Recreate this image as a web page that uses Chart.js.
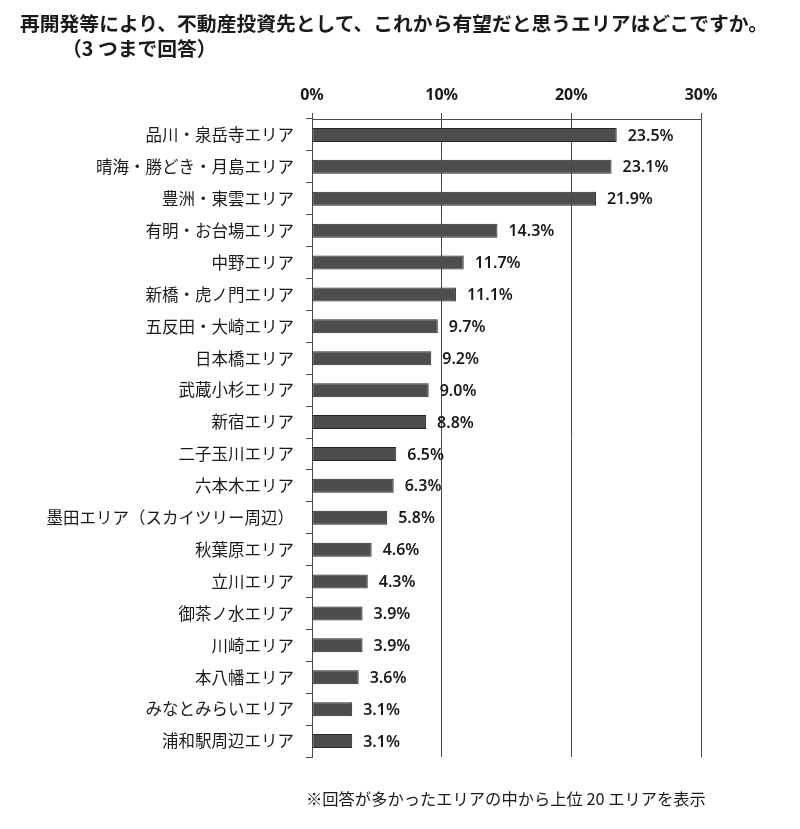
<!DOCTYPE html>
<html>
<head>
<meta charset="utf-8">
<script src="https://cdn.jsdelivr.net/npm/chart.js@4.4.1/dist/chart.umd.min.js"></script>
<style>
  html, body { margin: 0; padding: 0; background: #fff; }
  #wrap { position: relative; width: 800px; height: 829px; }
  #c { position: absolute; left: 0; top: 0; }
  .txt { position: absolute; font-family: "Noto Sans CJK JP", "Noto Sans", sans-serif; color: #1a1a1a; white-space: nowrap; }
  #t1 { left: 20px; top: 8px; font-size: 19.8px; font-weight: bold; }
  #t2 { left: 62px; top: 33px; font-size: 19.8px; font-weight: bold; }
  #foot { left: 306px; top: 786px; font-size: 16.3px; }
</style>
</head>
<body>
<div id="wrap">
  <canvas id="c" width="800" height="829"></canvas>
  <div class="txt" id="t1">再開発等により、不動産投資先として、これから有望だと思うエリアはどこですか。</div>
  <div class="txt" id="t2">（3 つまで回答）</div>
  <div class="txt" id="foot">※回答が多かったエリアの中から上位 20 エリアを表示</div>
</div>
<script>
const categories = [
  "品川・泉岳寺エリア",
  "晴海・勝どき・月島エリア",
  "豊洲・東雲エリア",
  "有明・お台場エリア",
  "中野エリア",
  "新橋・虎ノ門エリア",
  "五反田・大崎エリア",
  "日本橋エリア",
  "武蔵小杉エリア",
  "新宿エリア",
  "二子玉川エリア",
  "六本木エリア",
  "墨田エリア（スカイツリー周辺）",
  "秋葉原エリア",
  "立川エリア",
  "御茶ノ水エリア",
  "川崎エリア",
  "本八幡エリア",
  "みなとみらいエリア",
  "浦和駅周辺エリア"
];
const values = [23.5, 23.1, 21.9, 14.3, 11.7, 11.1, 9.7, 9.2, 9.0, 8.8, 6.5, 6.3, 5.8, 4.6, 4.3, 3.9, 3.9, 3.6, 3.1, 3.1];
const xTicks = [0, 10, 20, 30];

const valueLabels = {
  id: 'valueLabels',
  afterDatasetsDraw(chart) {
    const ctx = chart.ctx;
    const meta = chart.getDatasetMeta(0);
    ctx.save();
    ctx.font = '600 16px "Noto Sans", "DejaVu Sans", sans-serif';
    ctx.fillStyle = '#1a1a1a';
    ctx.textAlign = 'left';
    ctx.textBaseline = 'middle';
    meta.data.forEach((bar, i) => {
      ctx.fillText(values[i].toFixed(1) + '%', bar.x + 11, bar.y + 1);
    });
    ctx.restore();
  }
};

new Chart(document.getElementById('c'), {
  type: 'bar',
  data: {
    labels: categories,
    datasets: [{
      data: values,
      backgroundColor: '#4d4d4d',
      borderColor: '#262626',
      borderWidth: 1,
      borderSkipped: false,
      categoryPercentage: 1.0,
      barPercentage: 0.44
    }]
  },
  options: {
    indexAxis: 'y',
    responsive: false,
    animation: false,
    devicePixelRatio: 1,
    layout: { padding: { left: 10, right: 99, top: 0, bottom: 72 } },
    plugins: { legend: { display: false }, tooltip: { enabled: false }, title: { display: false } },
    scales: {
      x: {
        position: 'top',
        min: 0,
        max: 30,
        afterBuildTicks(scale) { scale.ticks = xTicks.map(v => ({ value: v })); },
        afterFit(scale) { scale.height = 119; },
        ticks: {
          callback: v => v + '%',
          font: { family: '"Noto Sans", "DejaVu Sans", sans-serif', size: 16, weight: 'bold' },
          color: '#1a1a1a',
          padding: 8
        },
        grid: { color: '#4a4a4a', lineWidth: 1, drawTicks: true, tickLength: 6 },
        border: { display: true, color: '#4a4a4a', width: 1 }
      },
      y: {
        afterFit(scale) { scale.width = 302; },
        ticks: {
          font: { family: '"Noto Sans CJK JP", sans-serif', size: 16.5 },
          color: '#1a1a1a',
          padding: 12,
          autoSkip: false
        },
        grid: { drawOnChartArea: false, drawTicks: true, tickLength: 6, color: '#4a4a4a', offset: true },
        border: { display: true, color: '#4a4a4a', width: 1 }
      }
    }
  },
  plugins: [valueLabels]
});
</script>
</body>
</html>
